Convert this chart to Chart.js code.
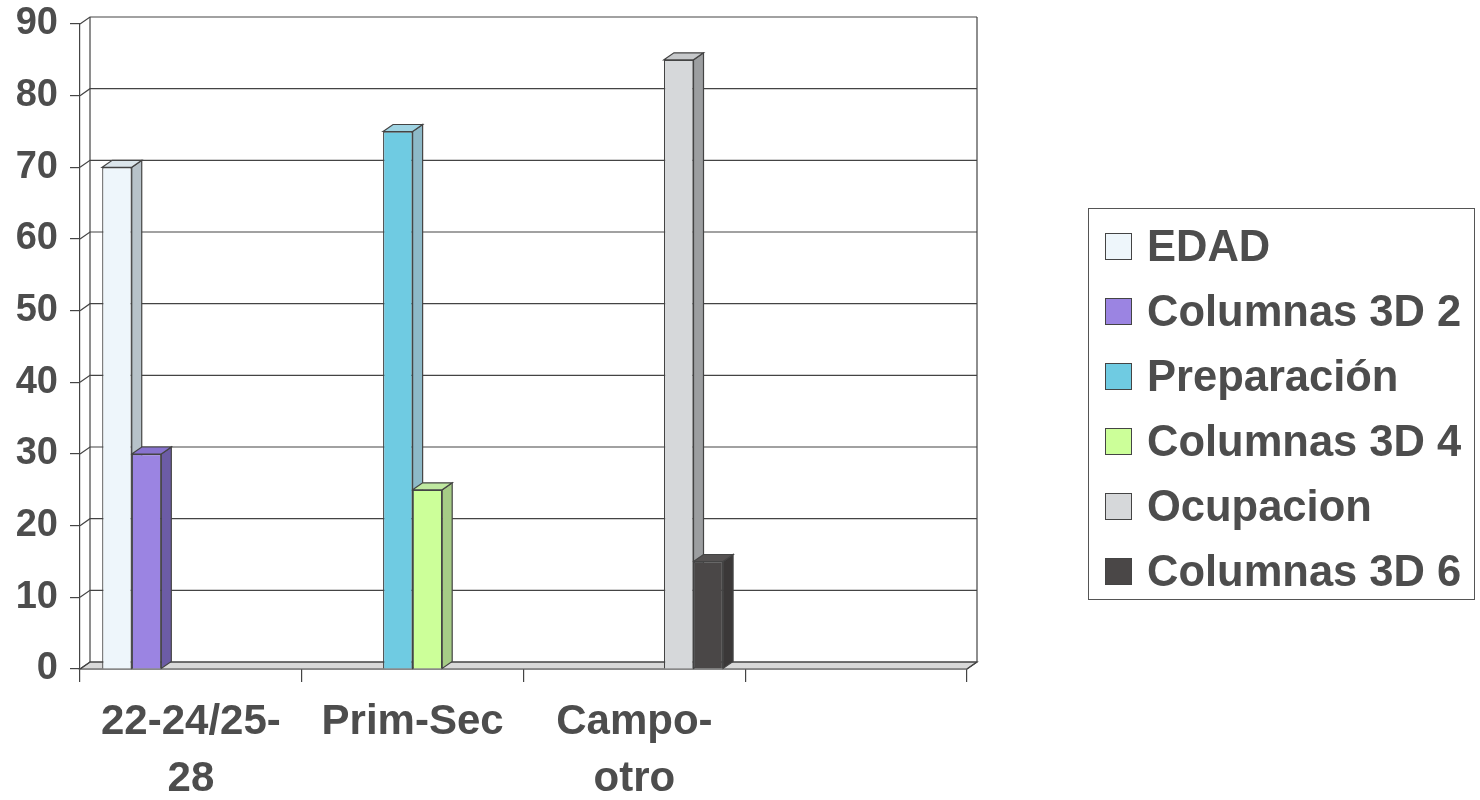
<!DOCTYPE html>
<html>
<head>
<meta charset="utf-8">
<script src="https://cdn.jsdelivr.net/npm/chart.js@4.4.1/dist/chart.umd.min.js"></script>
<style>
  html, body { margin: 0; padding: 0; background: #fff; }
  #wrap { position: relative; width: 1480px; height: 800px; }
  #legend {
    position: absolute; left: 1088px; top: 208px; width: 387px; height: 392px;
    border: 1.5px solid #555; box-sizing: border-box; padding-top: 5px;
    font-family: "Liberation Sans", Arial, sans-serif; font-weight: bold;
    font-size: 43.5px; color: #4d4d4d;
  }
  .row { height: 65px; display: flex; align-items: center; }
  .sw { width: 27px; height: 27px; border: 1.5px solid #444; margin-left: 16px; margin-right: 15px; box-sizing: border-box; }
</style>
</head>
<body>
<div id="wrap">
  <canvas id="c" width="1480" height="800"></canvas>
  <div id="legend"></div>
</div>
<script>
// categories (4th slot is empty in the original)
const categories = [["22-24/25-", "28"], "Prim-Sec", ["Campo-", "otro"], ""];
const seriesNames = ["EDAD", "Columnas 3D 2", "Preparación", "Columnas 3D 4", "Ocupacion", "Columnas 3D 6"];
const edad       = [70, null, null, null];
const columnas2  = [30, null, null, null];
const preparacion = [null, 75, null, null];
const columnas4  = [null, 25, null, null];
const ocupacion  = [null, null, 85, null];
const columnas6  = [null, null, 15, null];
const yTicks = [0, 10, 20, 30, 40, 50, 60, 70, 80, 90];

const frontColors = ["#eef6fb", "#9b84e2", "#6fcbe2", "#ccff99", "#d6d8da", "#4a4747"];
const sideColors  = ["#b7c2c9", "#6c5ca6", "#8db9c8", "#a6cc86", "#9c9ea0", "#3b3838"];
const topColors   = ["#dbe5eb", "#8873cf", "#9fd4e3", "#bfe8a0", "#c6c8ca", "#555252"];

const seriesData = [edad, columnas2, preparacion, columnas4, ocupacion, columnas6];
const DX = 10, DY = 7;
const textColor = "#4d4d4d";
const lineColor = "#444";

// html legend
const legendEl = document.getElementById("legend");
seriesNames.forEach((name, i) => {
  const row = document.createElement("div");
  row.className = "row";
  row.innerHTML = '<div class="sw" style="background:' + frontColors[i] + '"></div><span>' + name + '</span>';
  legendEl.appendChild(row);
});

// back wall, floor and 3D faces of the columns
const depthPlugin = {
  id: "depth",
  beforeDatasetsDraw(chart) {
    const ctx = chart.ctx;
    const y = chart.scales.y;
    const area = chart.chartArea;
    const base = y.getPixelForValue(0);
    const top = y.getPixelForValue(90);
    ctx.save();
    ctx.strokeStyle = lineColor;
    ctx.lineWidth = 1.2;

    // floor
    ctx.fillStyle = "#d9d9d9";
    ctx.beginPath();
    ctx.moveTo(area.left, base);
    ctx.lineTo(area.left + DX, base - DY);
    ctx.lineTo(area.right + DX, base - DY);
    ctx.lineTo(area.right, base);
    ctx.closePath();
    ctx.fill();
    ctx.stroke();

    // back wall gridlines
    yTicks.forEach(v => {
      const py = y.getPixelForValue(v);
      ctx.beginPath();
      ctx.moveTo(area.left, py);
      ctx.lineTo(area.left + DX, py - DY);
      ctx.lineTo(area.right + DX, py - DY);
      ctx.stroke();
    });
    ctx.beginPath();
    ctx.moveTo(area.left + DX, top - DY);
    ctx.lineTo(area.left + DX, base - DY);
    ctx.moveTo(area.right + DX, top - DY);
    ctx.lineTo(area.right + DX, base - DY);
    ctx.lineTo(area.right, base);
    ctx.stroke();

    // side + top faces of each bar
    chart.data.datasets.forEach((ds, di) => {
      const meta = chart.getDatasetMeta(di);
      meta.data.forEach((bar, i) => {
        if (ds.data[i] == null) return;
        const p = bar.getProps(["x", "y", "base", "width"], true);
        const l = p.x - p.width / 2, r = p.x + p.width / 2;
        ctx.fillStyle = sideColors[di];
        ctx.beginPath();
        ctx.moveTo(r, p.y);
        ctx.lineTo(r + DX, p.y - DY);
        ctx.lineTo(r + DX, p.base - DY);
        ctx.lineTo(r, p.base);
        ctx.closePath();
        ctx.fill();
        ctx.stroke();
        ctx.fillStyle = topColors[di];
        ctx.beginPath();
        ctx.moveTo(l, p.y);
        ctx.lineTo(l + DX, p.y - DY);
        ctx.lineTo(r + DX, p.y - DY);
        ctx.lineTo(r, p.y);
        ctx.closePath();
        ctx.fill();
        ctx.stroke();
      });
    });
    ctx.restore();
  }
};

new Chart(document.getElementById("c"), {
  type: "bar",
  data: {
    labels: categories,
    datasets: seriesNames.map((name, i) => ({
      label: name,
      data: seriesData[i],
      backgroundColor: frontColors[i],
      borderColor: lineColor,
      borderWidth: 1.2,
      barPercentage: 1.0,
      categoryPercentage: 0.8
    }))
  },
  options: {
    responsive: false,
    animation: false,
    layout: { padding: { top: 24, right: 513, left: 0, bottom: 0 } },
    plugins: { legend: { display: false }, tooltip: { enabled: false } },
    scales: {
      x: {
        afterFit: s => { s.height = 131; s.paddingLeft = 0; s.paddingRight = 0; },
        grid: { display: true, drawOnChartArea: false, offset: true, tickLength: 13, color: lineColor, lineWidth: 1.2 },
        border: { display: true, color: lineColor, width: 1.2 },
        ticks: {
          color: textColor, padding: 12, maxRotation: 0, autoSkip: false,
          font: { family: "Liberation Sans", weight: "bold", size: 42, lineHeight: 1.35 }
        }
      },
      y: {
        min: 0, max: 90,
        afterFit: s => { s.width = 80; s.paddingTop = 0; s.paddingBottom = 0; },
        grid: { display: true, drawOnChartArea: false, tickLength: 10, color: lineColor, lineWidth: 1.2 },
        border: { display: true, color: lineColor, width: 1.2 },
        afterBuildTicks: s => { s.ticks = yTicks.map(v => ({ value: v })); },
        ticks: {
          color: textColor, padding: 12,
          font: { family: "Liberation Sans", weight: "bold", size: 38, lineHeight: 0.6 }
        }
      }
    }
  },
  plugins: [depthPlugin]
});
</script>
</body>
</html>
